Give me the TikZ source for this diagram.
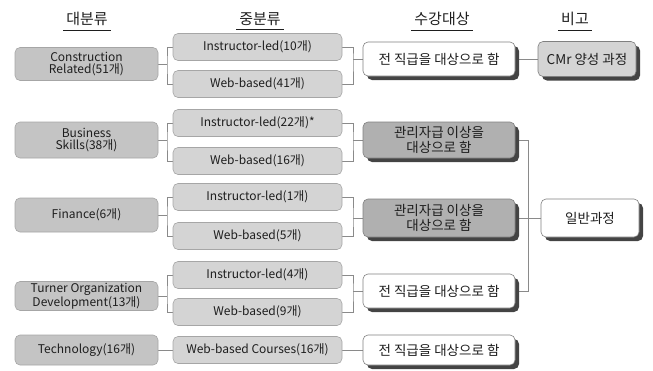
\documentclass[tikz,border=0pt]{standalone}
\usepackage{fontspec}
\setmainfont{Noto Sans CJK KR}
\usetikzlibrary{shadows,backgrounds}
\definecolor{cA}{HTML}{C4C4C4}
\definecolor{cB}{HTML}{D4D4D4}
\definecolor{cC}{HTML}{B0B0B0}
\definecolor{sh}{HTML}{444444}
\definecolor{ln}{HTML}{8A8A8A}
\definecolor{tx}{HTML}{1E1E1E}
\tikzset{
  box/.style={rounded corners=5pt, draw=gray!70, line width=0.6pt, align=center, inner sep=1pt, text=tx},
  majorbox/.style={box, fill=cA, minimum width=143pt, font=\fontsize{12}{12.5}\selectfont},
  midbox/.style={box, fill=cB, minimum width=169pt, minimum height=27pt, font=\fontsize{12}{12.5}\selectfont},
  tgtbox/.style={box, fill=white, draw=gray, minimum width=152pt, font=\fontsize{13.5}{15}\selectfont,
     drop shadow={shadow xshift=4pt, shadow yshift=-4pt, fill=sh, opacity=1}},
  tgtgray/.style={tgtbox, fill=cC},
  notebox/.style={tgtbox, minimum width=98pt},
  hdr/.style={font=\fontsize{15}{15}\selectfont, text=tx, inner sep=1pt},
  conn/.style={draw=ln, line width=0.6pt}
}
\begin{document}
\begin{tikzpicture}[x=1pt,y=-1pt]
\useasboundingbox (0,0) rectangle (653,370);
% headers
\node[hdr] (h1) at (87,19) {대분류};
\node[hdr] (h2) at (260,19) {중분류};
\node[hdr] (h3) at (442,19) {수강대상};
\node[hdr] (h4) at (575,19) {비고};
\foreach \h in {h1,h2,h3,h4}{
  \draw[tx, line width=0.7pt] ([xshift=-2pt,yshift=-3pt]\h.south west) -- ([xshift=2pt,yshift=-3pt]\h.south east);
}
% column 1
\node[majorbox, minimum height=33pt] (c1A) at (86.5,64) {Construction\\Related(51개)};
\node[majorbox, minimum height=36pt] (c1B) at (86.5,140) {Business\\Skills(38개)};
\node[majorbox, minimum height=34pt] (c1C) at (86.5,215) {Finance(6개)};
\node[majorbox, minimum height=29pt] (c1D) at (86.5,296) {Turner Organization\\Development(13개)};
\node[majorbox, minimum height=30pt] (c1E) at (86.5,350) {Technology(16개)};
% column 2
\node[midbox] (c2Aa) at (257.5,47) {Instructor-led(10개)};
\node[midbox] (c2Ab) at (257.5,84) {Web-based(41개)};
\node[midbox] (c2Ba) at (257.5,123) {Instructor-led(22개)*};
\node[midbox] (c2Bb) at (257.5,161) {Web-based(16개)};
\node[midbox] (c2Ca) at (257.5,197) {Instructor-led(1개)};
\node[midbox] (c2Cb) at (257.5,236) {Web-based(5개)};
\node[midbox] (c2Da) at (257.5,275) {Instructor-led(4개)};
\node[midbox] (c2Db) at (257.5,312) {Web-based(9개)};
\node[midbox] (c2E) at (257.5,350) {Web-based Courses(16개)};
% column 3
\node[tgtbox, minimum height=34pt] (c3A) at (439,59) {전 직급을 대상으로 함};
\node[tgtgray, minimum height=36pt] (c3B) at (439,140) {관리자급 이상을\\대상으로 함};
\node[tgtgray, minimum height=38pt] (c3C) at (439,218) {관리자급 이상을\\대상으로 함};
\node[tgtbox, minimum height=34pt] (c3D) at (439,291) {전 직급을 대상으로 함};
\node[tgtbox, minimum height=30pt] (c3E) at (439,350) {전 직급을 대상으로 함};
% column 4
\node[notebox, fill=cB, minimum height=35pt] (c4A) at (587,59) {CMr 양성 과정};
\node[notebox, minimum height=38pt] (c4B) at (590,218) {일반과정};
% connectors
\begin{scope}[on background layer]
\foreach \r/\yl/\yr in {A/64/59, B/140/140, C/215/218, D/296/291}{
  \coordinate (bl\r) at (167,\yl);
  \coordinate (br\r) at (353,\yr);
  \draw[conn] (c1\r.east) -- (bl\r);
  \draw[conn] (c2\r a.west) -| (bl\r) |- (c2\r b.west);
  \draw[conn] (c2\r a.east) -| (br\r) |- (c2\r b.east);
  \draw[conn] (br\r) -- (c3\r.west);
}
\draw[conn] (c1E.east) -- (c2E.west);
\draw[conn] (c2E.east) -- (c3E.west);
\draw[conn] (c3A.east) -- (c4A.west);
\coordinate (gB) at (528,140);
\coordinate (gD) at (528,291);
\draw[conn] (c3B.east) -- (gB) -- (gD) -- (c3D.east);
\draw[conn] (c3C.east) -- (c4B.west);
\end{scope}
\end{tikzpicture}
\end{document}
